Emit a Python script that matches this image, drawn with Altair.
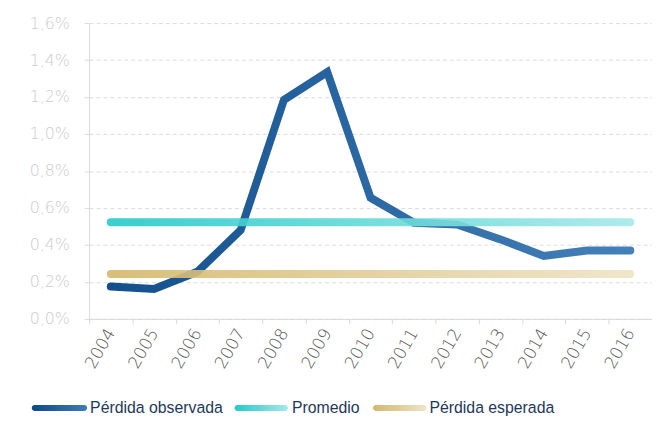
import altair as alt
import pandas as pd

years = [str(y) for y in range(2004, 2017)]
observada = [0.175, 0.162, 0.255, 0.48, 1.185, 1.335, 0.655, 0.52, 0.51, 0.43, 0.34, 0.37, 0.37]
promedio = [0.523] * 13
esperada = [0.243] * 13
y_ticks = [0, 0.2, 0.4, 0.6, 0.8, 1.0, 1.2, 1.4, 1.6]
series_names = ["Pérdida observada", "Promedio", "Pérdida esperada"]

df = pd.DataFrame({"year": years, "obs": observada, "prom": promedio, "esp": esperada})

W, H = 569, 299


def grad(c0, c1):
    return alt.Gradient(
        gradient="linear",
        stops=[alt.GradientStop(color=c0, offset=0), alt.GradientStop(color=c1, offset=1)],
        x1=0, x2=1, y1=0, y2=0,
    )


g_obs = grad("#0b4a88", "#3f7cb7")
g_prom = grad("#24c9c9", "#a5e9e8")
g_esp = grad("#d4b76a", "#eee3c6")

xscale = alt.Scale(type="band", paddingInner=0, paddingOuter=0)
xaxis = alt.Axis(
    title=None, labelAngle=-60, labelAlign="right", labelBaseline="middle",
    tickBand="extent", tickSize=5, tickColor="#d9d9d9", domainColor="#d9d9d9",
    labelColor="#555555", labelFont="DejaVu Sans", labelFontWeight=200,
    labelFontSize=17, labelPadding=6, grid=False, labelOverlap=False,
)
yscale = alt.Scale(domain=[0, 1.6], nice=False, zero=True)
yaxis = alt.Axis(
    title=None, values=y_ticks, tickCount=9,
    labelExpr="replace(format(datum.value, '.1f'), '.', ',') + '%'",
    gridDash=[4, 3], gridColor="#dcdcdc", domainColor="#d9d9d9",
    tickColor="#d9d9d9", tickSize=5, labelColor="#cccccc",
    labelFont="DejaVu Sans", labelFontWeight=200, labelFontSize=16, labelPadding=15,
    labelOverlap=False, labelFlush=False,
)

x_enc = alt.X("year:O", bandPosition=0.5, scale=xscale, axis=xaxis)

obs = alt.Chart(df).mark_line(
    strokeWidth=8, strokeCap="round", strokeJoin="miter", color=g_obs, opacity=0.97
).encode(x=x_enc, y=alt.Y("obs:Q", scale=yscale, axis=yaxis))

prom = alt.Chart(df).mark_trail(color=g_prom, opacity=0.9).encode(
    x=x_enc, y=alt.Y("prom:Q", scale=yscale, axis=yaxis), size=alt.value(8)
)
esp = alt.Chart(df).mark_trail(color=g_esp, opacity=0.9).encode(
    x=x_enc, y=alt.Y("esp:Q", scale=yscale, axis=yaxis), size=alt.value(8)
)

one = pd.DataFrame({"k": [0]})
LY = 389
leg_items = [
    (-58, -2, 1, g_obs, series_names[0]),
    (147, 201, 205, g_prom, series_names[1]),
    (287, 341, 344, g_esp, series_names[2]),
]
legend_layers = []
for xa, xb, xt, g, name in leg_items:
    legend_layers.append(
        alt.Chart(one).mark_rect(color=g, cornerRadius=3).encode(
            x=alt.value(xa), x2=alt.value(xb), y=alt.value(LY - 3), y2=alt.value(LY + 3)
        )
    )
    legend_layers.append(
        alt.Chart(one).mark_text(
            text=name, align="left", baseline="middle", font="Liberation Sans",
            fontSize=16, color="#24385b",
        ).encode(x=alt.value(xt), y=alt.value(LY))
    )

chart = alt.layer(obs, prom, esp, *legend_layers).properties(
    width=W, height=H,
    autosize=alt.AutoSizeParams(type="none"),
    padding={"left": 82, "top": 13, "right": 0, "bottom": 105},
).configure_view(stroke=None)

chart.save("out.html", embed_options={"renderer": "svg", "actions": False})
